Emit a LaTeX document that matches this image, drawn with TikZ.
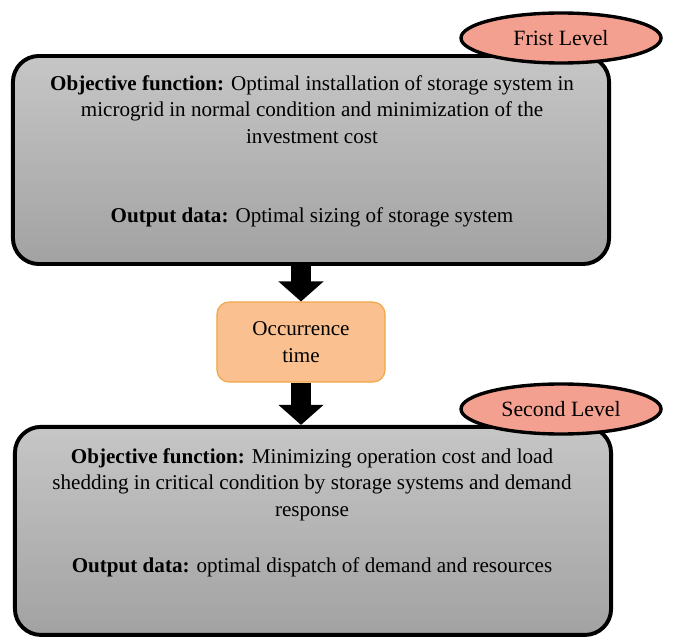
\documentclass[tikz,border=0pt]{standalone}
\usepackage{fontspec}
\setmainfont{Liberation Serif}
\usetikzlibrary{shapes.geometric,arrows.meta}

\definecolor{boxtop}{RGB}{198,198,198}
\definecolor{boxbot}{RGB}{162,162,162}
\definecolor{tagfill}{RGB}{244,160,144}
\definecolor{eventfill}{RGB}{250,192,144}
\definecolor{eventdraw}{RGB}{240,165,70}

\tikzstyle{levelbox} = [rectangle, rounded corners=0.65cm, minimum width=14.9cm, minimum height=5.2cm, draw=black, line width=2.8pt, top color=boxtop, bottom color=boxbot]
\tikzstyle{leveltag} = [ellipse, minimum width=5cm, minimum height=1.25cm, draw=black, line width=2.4pt, fill=tagfill, font=\fontsize{15.5}{18}\selectfont]
\tikzstyle{event} = [rectangle, rounded corners=0.3cm, minimum width=4.2cm, minimum height=2cm, draw=eventdraw, line width=0.8pt, fill=eventfill, align=center, font=\fontsize{15}{19}\selectfont]
\tikzstyle{boxtext} = [align=center, inner sep=0pt, font=\fontsize{15}{19}\selectfont]
\tikzstyle{blockarrow} = [line width=0.5cm, -{Triangle[length=0.5cm, width=1.1cm]}]

\begin{document}
\begin{tikzpicture}[x=0.025cm, y=-0.025cm]
\useasboundingbox (0,0) rectangle (678,643);

\node (first) [levelbox] at (311,160) {};
\node (occur) [event, below of=first, node distance=4.55cm, xshift=-0.25cm] {Occurrence\\time};
\node (second) [levelbox, below of=occur, node distance=4.72cm, xshift=0.3cm] {};

\node (firstobj) [boxtext, anchor=north] at (312,75) {\textbf{Objective function:} Optimal installation of storage system in\\microgrid in normal condition and minimization of the\\investment cost};
\node (firstout) [boxtext, anchor=base] at (312,223) {\textbf{Output data:} Optimal sizing of storage system};
\node (secondobj) [boxtext, anchor=north] at (312,448) {\textbf{Objective function:} Minimizing operation cost and load\\shedding in critical condition by storage systems and demand\\response};
\node (secondout) [boxtext, anchor=base] at (312,572) {\textbf{Output data:} optimal dispatch of demand and resources};

\node (firsttag) [leveltag] at (561,38) {Frist Level};
\node (secondtag) [leveltag] at (561,409) {Second Level};

\draw [blockarrow] (occur.north |- first.south) -- (occur.north);
\draw [blockarrow] (occur.south) -- (occur.south |- second.north);

\end{tikzpicture}
\end{document}
